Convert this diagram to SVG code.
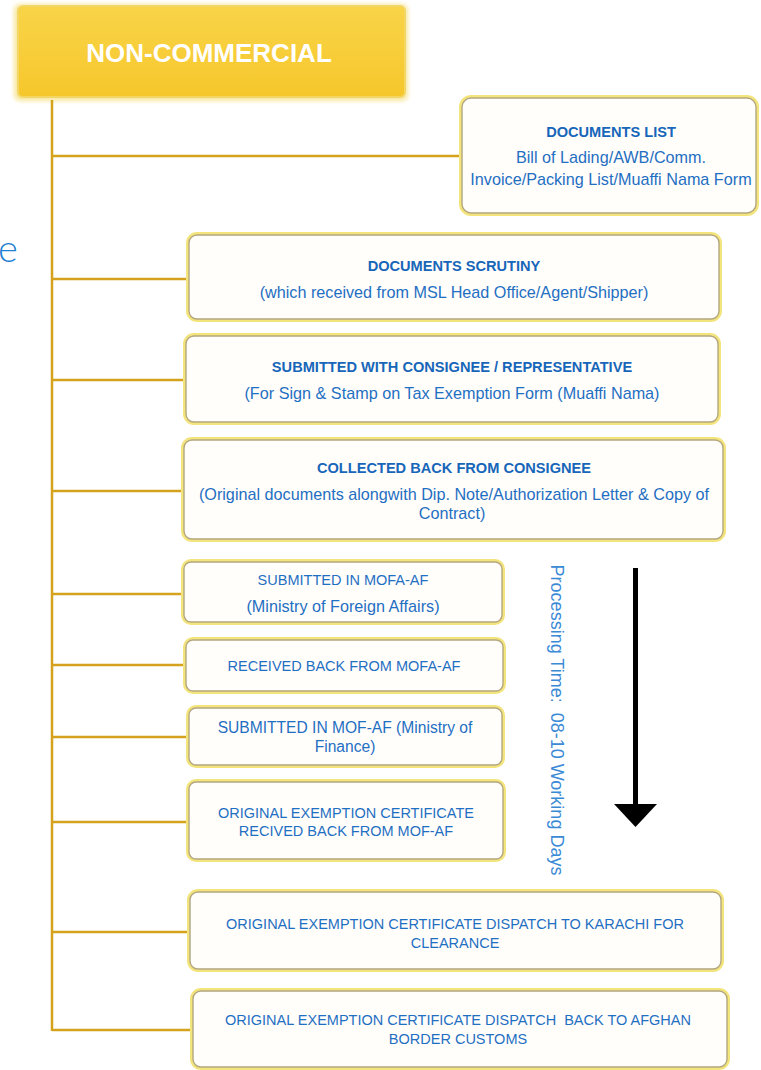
<svg xmlns="http://www.w3.org/2000/svg" width="761" height="1070" viewBox="0 0 761 1070">
<defs>
<linearGradient id="hdr" x1="0" y1="0" x2="0" y2="1">
<stop offset="0" stop-color="#f9d448"/>
<stop offset="1" stop-color="#f6c72c"/>
</linearGradient>
<filter id="soft" x="-10%" y="-20%" width="120%" height="140%">
<feGaussianBlur stdDeviation="2"/>
</filter>
</defs>
<style>
.glow{fill:none;stroke:#f4e47c;stroke-width:4}
.box{fill:#fffefb;stroke:#b3a780;stroke-width:1.4}
.t{font-family:"Liberation Sans",Arial,sans-serif;fill:#1f6fc2;text-anchor:middle}
.b{font-weight:bold;font-size:14.6px;fill:#1766b9}
.c{font-size:14.5px}
.m{font-size:16.2px}
.m2{font-size:15.6px}
.ln{stroke:#d4a21c;stroke-width:2.5;fill:none}
</style>

<g id="header">
<rect x="14" y="4" width="394" height="97" rx="6" fill="#f8e7a0" filter="url(#soft)"/>
<rect x="18" y="6" width="387" height="91" rx="5" fill="url(#hdr)" stroke="#f2d666" stroke-width="2"/>
<text x="209" y="62" font-family="Liberation Sans, Arial, sans-serif" font-weight="bold" font-size="26" fill="#ffffff" text-anchor="middle">NON-COMMERCIAL</text>
</g>

<g id="connectors">
<line class="ln" x1="52" y1="100" x2="52" y2="1031"/>
<line class="ln" x1="52" y1="156" x2="461" y2="156"/>
<line class="ln" x1="52" y1="279" x2="188" y2="279"/>
<line class="ln" x1="52" y1="380" x2="185" y2="380"/>
<line class="ln" x1="52" y1="491" x2="183" y2="491"/>
<line class="ln" x1="52" y1="594" x2="183" y2="594"/>
<line class="ln" x1="52" y1="665" x2="185" y2="665"/>
<line class="ln" x1="52" y1="737" x2="188" y2="737"/>
<line class="ln" x1="52" y1="822" x2="188" y2="822"/>
<line class="ln" x1="52" y1="932" x2="189" y2="932"/>
<line class="ln" x1="52" y1="1030" x2="192" y2="1030"/>
</g>

<text x="-2" y="262" font-family="Lato, 'Liberation Sans', sans-serif" font-weight="300" font-size="38" fill="#1f7fd0">e</text>

<g id="n1">
<rect class="glow" x="461" y="97" width="296" height="117" rx="10"/>
<rect class="box" x="462" y="98" width="294" height="115" rx="9"/>
<text class="t b" x="611" y="137">DOCUMENTS LIST</text>
<text class="t m" x="611" y="163">Bill of Lading/AWB/Comm.</text>
<text class="t m" x="611" y="185">Invoice/Packing List/Muaffi Nama Form</text>
</g>

<g id="n2">
<rect class="glow" x="188" y="234" width="532" height="86" rx="9"/>
<rect class="box" x="189" y="235" width="530" height="84" rx="8"/>
<text class="t b" x="454" y="271">DOCUMENTS SCRUTINY</text>
<text class="t m" x="454" y="298">(which received from MSL Head Office/Agent/Shipper)</text>
</g>

<g id="n3">
<rect class="glow" x="185" y="335" width="534" height="88" rx="9"/>
<rect class="box" x="186" y="336" width="532" height="86" rx="8"/>
<text class="t b" x="452" y="372">SUBMITTED WITH CONSIGNEE / REPRESENTATIVE</text>
<text class="t m" x="452" y="399">(For Sign &amp; Stamp on Tax Exemption Form (Muaffi Nama)</text>
</g>

<g id="n4">
<rect class="glow" x="183" y="439" width="541" height="101" rx="9"/>
<rect class="box" x="184" y="440" width="539" height="99" rx="8"/>
<text class="t b" x="454" y="473">COLLECTED BACK FROM CONSIGNEE</text>
<text class="t m" x="454" y="500">(Original documents alongwith Dip. Note/Authorization Letter &amp; Copy of</text>
<text class="t m" x="452" y="519">Contract)</text>
</g>

<g id="n5">
<rect class="glow" x="183" y="561" width="320" height="62" rx="8"/>
<rect class="box" x="184" y="562" width="318" height="60" rx="7"/>
<text class="t c" x="343" y="585">SUBMITTED IN MOFA-AF</text>
<text class="t m" x="343" y="612">(Ministry of Foreign Affairs)</text>
</g>

<g id="n6">
<rect class="glow" x="185" y="639" width="319" height="53" rx="8"/>
<rect class="box" x="186" y="640" width="317" height="51" rx="7"/>
<text class="t c" x="344" y="671">RECEIVED BACK FROM MOFA-AF</text>
</g>

<g id="n7">
<rect class="glow" x="188" y="707" width="315" height="59" rx="8"/>
<rect class="box" x="189" y="708" width="313" height="57" rx="7"/>
<text class="t m2" x="345" y="733">SUBMITTED IN MOF-AF (Ministry of</text>
<text class="t m2" x="345" y="752">Finance)</text>
</g>

<g id="n8">
<rect class="glow" x="188" y="781" width="316" height="79" rx="8"/>
<rect class="box" x="189" y="782" width="314" height="77" rx="7"/>
<text class="t c" x="346" y="818">ORIGINAL EXEMPTION CERTIFICATE</text>
<text class="t c" x="346" y="836">RECIVED BACK FROM MOF-AF</text>
</g>

<g id="n9">
<rect class="glow" x="189" y="891" width="533" height="79" rx="9"/>
<rect class="box" x="190" y="892" width="531" height="77" rx="8"/>
<text class="t c" x="455" y="929">ORIGINAL EXEMPTION CERTIFICATE DISPATCH TO KARACHI FOR</text>
<text class="t c" x="455" y="948">CLEARANCE</text>
</g>

<g id="n10">
<rect class="glow" x="192" y="990" width="536" height="78" rx="9"/>
<rect class="box" x="193" y="991" width="534" height="76" rx="8"/>
<text class="t c" x="458" y="1025" xml:space="preserve">ORIGINAL EXEMPTION CERTIFICATE DISPATCH  BACK TO AFGHAN</text>
<text class="t c" x="458" y="1044">BORDER CUSTOMS</text>
</g>

<g id="processing">
<text transform="translate(551,720) rotate(90)" x="0" y="0" font-family="Liberation Sans, Arial, sans-serif" font-size="18" fill="#3b8ad6" text-anchor="middle" xml:space="preserve">Processing Time:  08-10 Working Days</text>
<line x1="635.5" y1="568" x2="635.5" y2="806" stroke="#000" stroke-width="5"/>
<polygon points="614,804 657,804 635.5,827" fill="#000"/>
</g>
</svg>
